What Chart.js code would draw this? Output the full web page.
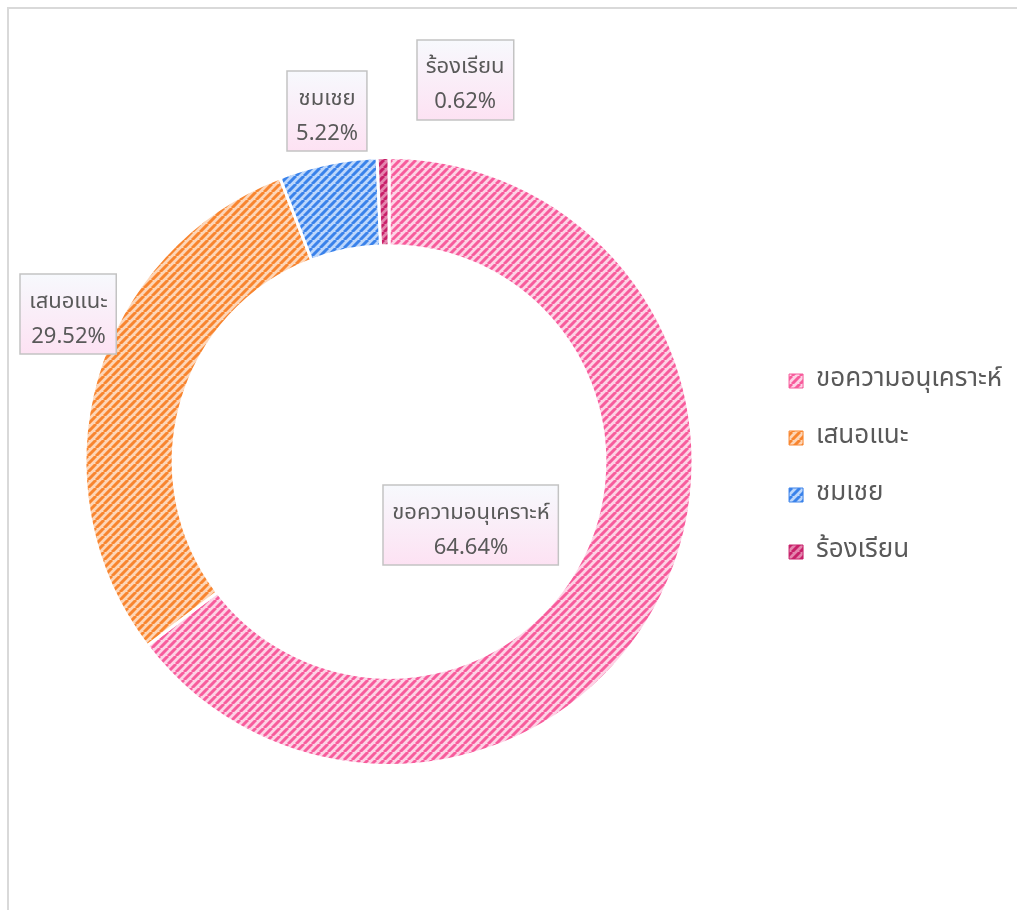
<!DOCTYPE html>
<html>
<head>
<meta charset="utf-8">
<script src="https://cdn.jsdelivr.net/npm/chart.js@4.4.1/dist/chart.umd.min.js"></script>
<style>
  html, body { margin: 0; padding: 0; overflow: hidden; background: #fff; }
  #frame { position: absolute; left: 7px; top: 7px; width: 1100px; height: 1000px; border: 2px solid #d9d9d9; }
  #wrap { position: absolute; left: 0; top: 0; width: 1017px; height: 910px; }
</style>
</head>
<body>
<div id="frame"></div>
<div id="wrap"><canvas id="c" width="1017" height="910"></canvas></div>
<script>
const labels = ['ขอความอนุเคราะห์', 'เสนอแนะ', 'ชมเชย', 'ร้องเรียน'];
const values = [64.64, 29.52, 5.22, 0.62];
const darkColors = ['#f75c9c', '#f8852f', '#3a82ea', '#c8216a'];
const lightColors = ['#fdd3e5', '#fdd6b8', '#bdd7fb', '#e486ae'];
// label box placement: share of outer radius, and turn from slice middle (deg)
const labelDist = [0.342, 1.16, 1.17, 1.28];
const labelTurn = [11.6, 8.8, 1.6, 12.4];

const fam = "'Noto Sans Thai', Tahoma, 'DejaVu Sans', sans-serif";
const canvas = document.getElementById('c');
const ctx = canvas.getContext('2d');

// diagonal hatch like excel's wide upward diagonal
function stripes(dark, light) {
  const s = 8;
  const t = document.createElement('canvas');
  t.width = s; t.height = s;
  const g = t.getContext('2d');
  g.fillStyle = light;
  g.fillRect(0, 0, s, s);
  g.strokeStyle = dark;
  g.lineWidth = 3;
  g.beginPath();
  for (let k = -1; k <= 1; k++) {
    g.moveTo(k * s, s);
    g.lineTo(k * s + s, 0);
  }
  g.stroke();
  return ctx.createPattern(t, 'repeat');
}
const patterns = darkColors.map((d, i) => stripes(d, lightColors[i]));

const boxLabels = {
  id: 'boxLabels',
  afterLayout(chart) {
    // nudge legend a little lower, like the excel one
    chart.legend.top += 5;
    chart.legend.bottom += 5;
  },
  afterDatasetsDraw(chart) {
    const c = chart.ctx;
    const meta = chart.getDatasetMeta(0);
    c.save();
    c.font = '22px ' + fam;
    meta.data.forEach((arc, i) => {
      const p = arc.getProps(['x', 'y', 'startAngle', 'endAngle', 'outerRadius']);
      const a = (p.startAngle + p.endAngle) / 2 + labelTurn[i] * Math.PI / 180;
      const r = p.outerRadius * labelDist[i];
      const cx = p.x + Math.cos(a) * r;
      const cy = p.y + Math.sin(a) * r;
      const l1 = labels[i];
      const l2 = values[i].toFixed(2) + '%';
      const w = Math.max(c.measureText(l1).width, c.measureText(l2).width) + 18;
      const h = 80;
      const x0 = Math.round(cx - w / 2), y0 = Math.round(cy - h / 2);
      const grad = c.createLinearGradient(0, y0, 0, y0 + h);
      grad.addColorStop(0, '#f7f9fd');
      grad.addColorStop(1, '#fde2f3');
      c.fillStyle = grad;
      c.fillRect(x0, y0, w, h);
      c.strokeStyle = '#c3c3c3';
      c.lineWidth = 1.5;
      c.strokeRect(x0, y0, w, h);
      c.fillStyle = '#595959';
      c.textAlign = 'center';
      c.textBaseline = 'middle';
      c.fillText(l1, cx, cy - 11);
      c.fillText(l2, cx, cy + 24);
    });
    c.restore();
  }
};

new Chart(ctx, {
  type: 'doughnut',
  data: {
    labels: labels,
    datasets: [{
      data: values,
      backgroundColor: patterns,
      borderColor: '#ffffff',
      borderWidth: 3,
      hoverOffset: 0
    }]
  },
  options: {
    responsive: false,
    animation: false,
    cutout: '71%',
    layout: { padding: { top: 156, bottom: 143, left: 20, right: 5 } },
    plugins: {
      tooltip: { enabled: false },
      legend: {
        position: 'right',
        labels: {
          color: '#595959',
          font: { size: 26, family: fam },
          boxWidth: 14,
          boxHeight: 14,
          padding: 31,
          generateLabels(chart) {
            const items = Chart.overrides.doughnut.plugins.legend.labels.generateLabels(chart);
            items.forEach((it, i) => { it.strokeStyle = darkColors[i]; it.lineWidth = 1; });
            return items;
          }
        }
      }
    }
  },
  plugins: [boxLabels]
});
</script>
</body>
</html>
